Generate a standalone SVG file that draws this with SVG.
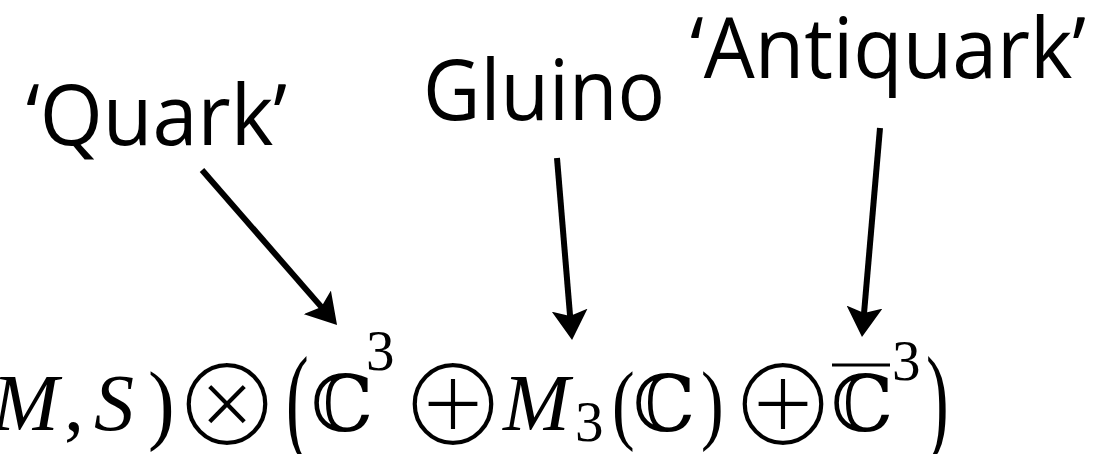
<svg xmlns="http://www.w3.org/2000/svg" width="1105" height="454" viewBox="0 0 1105 454">
<style>
.lbl{font-family:"Open Sans","Liberation Sans",sans-serif;font-size:84px;fill:#000}
.m{font-family:"Liberation Serif","DejaVu Serif",serif;font-size:80px;fill:#000}
.mi{font-style:italic}
.bb{font-family:"DejaVu Serif","DejaVu Sans",serif;font-size:78px;fill:#000}
.op{font-family:"Noto Sans CJK SC","DejaVu Sans",sans-serif;font-size:114px;fill:#000;stroke:#fff;stroke-width:3.6;text-anchor:middle}
.sup{font-family:"Liberation Serif",serif;font-size:57px;fill:#000}
.conn{stroke:#000;stroke-width:6;fill:none;marker-end:url(#ah)}
</style>
<defs>
<marker id="ah" markerUnits="userSpaceOnUse" viewBox="0 0 30 36" refX="10" refY="18" markerWidth="30" markerHeight="36" orient="auto">
<path d="M0,0 L30,18 L0,36 L6,18 Z" fill="#000"/>
</marker>
</defs>
<rect width="1105" height="454" fill="#fff"/>
<g id="quark"><text class="lbl" x="26" y="145" textLength="261" lengthAdjust="spacingAndGlyphs">‘Quark’</text></g>
<g id="gluino"><text class="lbl" x="423" y="120" textLength="242" lengthAdjust="spacingAndGlyphs">Gluino</text></g>
<g id="antiquark"><text class="lbl" x="690" y="78" textLength="396" lengthAdjust="spacingAndGlyphs">‘Antiquark’</text></g>
<g id="formula">
<text class="m mi" x="-8" y="430">M</text>
<text class="m" x="64" y="430">,</text>
<text class="m mi" x="94" y="430">S</text>
<text class="m" transform="translate(148,432.7) scale(1,1.1)">)</text>
<text class="op" x="227" y="447">⊗</text>
<text class="m" transform="translate(286,440) scale(0.85,1.5)">(</text>
<text class="bb" x="311" y="431">ℂ</text>
<text class="sup" x="366" y="370">3</text>
<text class="op" x="453" y="447">⊕</text>
<text class="m mi" x="503" y="430">M</text>
<text class="sup" x="575" y="441">3</text>
<text class="m" transform="translate(612,432.7) scale(0.85,1.1)">(</text>
<text class="bb" x="633" y="431">ℂ</text>
<text class="m" transform="translate(701,432.7) scale(0.85,1.1)">)</text>
<text class="op" x="783" y="447">⊕</text>
<line x1="832" y1="365" x2="890" y2="365" stroke="#000" stroke-width="3"/>
<text class="bb" x="831" y="431">ℂ</text>
<text class="sup" x="892" y="380">3</text>
<text class="m" transform="translate(926,440) scale(0.85,1.5)">)</text>
</g>
<g id="connectors">
<line class="conn" x1="202" y1="170" x2="323.9" y2="309.9"/>
<line class="conn" x1="557" y1="158" x2="570.4" y2="320.1"/>
<line class="conn" x1="880" y1="128" x2="863.7" y2="317.1"/>
</g>
</svg>
